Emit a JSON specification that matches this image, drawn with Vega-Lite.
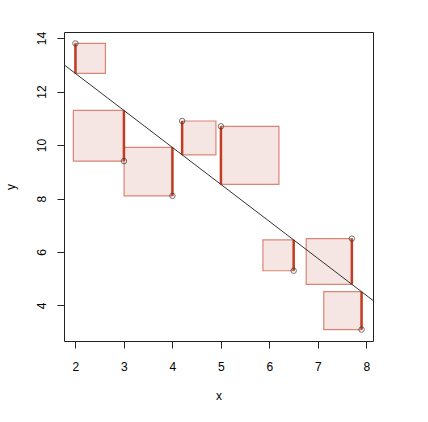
{
  "$schema": "https://vega.github.io/schema/vega-lite/v6.json",
  "autosize": "none",
  "width": 309,
  "height": 309,
  "padding": {"left": 64, "top": 32, "right": 55, "bottom": 81},
  "background": "white",
  "config": {
    "view": {"stroke": "#222", "strokeWidth": 1},
    "font": "Liberation Sans",
    "axis": {
      "domain": false, "grid": false, "ticks": true, "tickColor": "#222", "tickSize": 7, "tickWidth": 1,
      "labelFont": "Liberation Sans", "labelFontSize": 12, "labelColor": "#000",
      "titleFont": "Liberation Sans", "titleFontSize": 12, "titleFontWeight": "normal", "titleColor": "#000"
    }
  },
  "datasets": {
    "pts": [
      {"x": 2.0, "y": 13.8, "fit": 12.677, "sq_x": 2.0, "sq_x2": 2.618},
      {"x": 3.0, "y": 9.4, "fit": 11.294, "sq_x": 1.957, "sq_x2": 3.0},
      {"x": 4.0, "y": 8.1, "fit": 9.91, "sq_x": 3.003, "sq_x2": 4.0},
      {"x": 4.2, "y": 10.9, "fit": 9.634, "sq_x": 4.2, "sq_x2": 4.897},
      {"x": 5.0, "y": 10.7, "fit": 8.527, "sq_x": 5.0, "sq_x2": 6.196},
      {"x": 6.5, "y": 5.3, "fit": 6.452, "sq_x": 5.866, "sq_x2": 6.5},
      {"x": 7.7, "y": 6.5, "fit": 4.791, "sq_x": 6.759, "sq_x2": 7.7},
      {"x": 7.9, "y": 3.1, "fit": 4.515, "sq_x": 7.121, "sq_x2": 7.9}
    ],
    "fitline": [
      {"x": 1.764, "y": 13.004},
      {"x": 8.136, "y": 4.188}
    ]
  },
  "layer": [
    {
      "data": {"name": "pts"},
      "mark": {"type": "rect", "fill": "#f5e5e3", "stroke": "#d98677", "strokeWidth": 1.2},
      "encoding": {
        "x": {"field": "sq_x", "type": "quantitative", "scale": {"domain": [1.764, 8.136], "nice": false, "zero": false},
              "axis": {"values": [2, 3, 4, 5, 6, 7, 8], "title": "x", "labelPadding": 13, "titlePadding": 18}},
        "x2": {"field": "sq_x2"},
        "y": {"field": "y", "type": "quantitative", "scale": {"domain": [2.672, 14.228], "nice": false, "zero": false},
              "axis": {"values": [4, 6, 8, 10, 12, 14], "title": "y", "labelAngle": -90, "labelAlign": "center", "labelBaseline": "bottom", "labelPadding": 9, "titlePadding": 18}},
        "y2": {"field": "fit"}
      }
    },
    {
      "data": {"name": "pts"},
      "mark": {"type": "rule", "color": "#c23b22", "strokeWidth": 2.5},
      "encoding": {
        "x": {"field": "x", "type": "quantitative"},
        "y": {"field": "y", "type": "quantitative"},
        "y2": {"field": "fit"}
      }
    },
    {
      "data": {"name": "fitline"},
      "mark": {"type": "line", "color": "#333", "strokeWidth": 1, "clip": true},
      "encoding": {
        "x": {"field": "x", "type": "quantitative"},
        "y": {"field": "y", "type": "quantitative"}
      }
    },
    {
      "data": {"name": "pts"},
      "mark": {"type": "point", "shape": "circle", "filled": false, "stroke": "#333", "strokeWidth": 1, "size": 30},
      "encoding": {
        "x": {"field": "x", "type": "quantitative"},
        "y": {"field": "y", "type": "quantitative"}
      }
    }
  ]
}
